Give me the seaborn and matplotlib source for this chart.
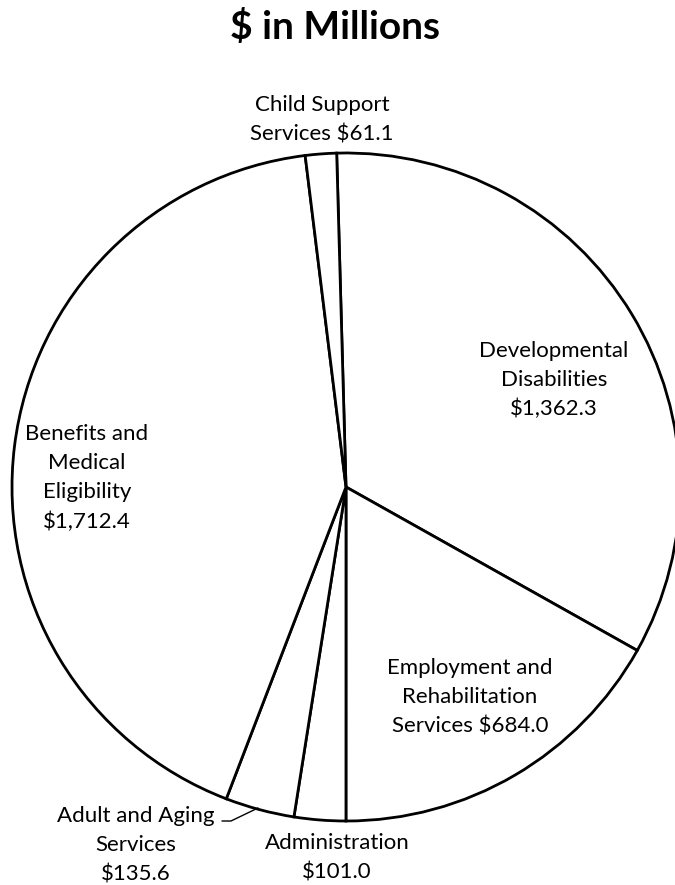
import matplotlib
matplotlib.use("Agg")
import matplotlib.pyplot as plt
import seaborn as sns

# ---- data ----
categories = [
    "Developmental\nDisabilities\n$1,362.3",
    "Employment and\nRehabilitation\nServices $684.0",
    "Administration\n$101.0",
    "Adult and Aging\nServices\n$135.6",
    "Benefits and\nMedical\nEligibility\n$1,712.4",
    "Child Support\nServices $61.1",
]
values = [1362.3, 684.0, 101.0, 135.6, 1712.4, 61.1]
title = "$ in Millions"

sns.set_theme(style="white")
plt.rcParams["font.family"] = ["Lato", "DejaVu Sans"]

W, H = 675, 885
fig = plt.figure(figsize=(W / 100, H / 100), dpi=100)
fig.patch.set_facecolor("white")
ax = fig.add_axes([0, 0, 1, 1])

cx, cy, r = 346, 487, 334

wedges, _ = ax.pie(
    values,
    startangle=91.6,
    counterclock=False,
    radius=1.0,
    colors=["white"] * len(values),
    wedgeprops=dict(edgecolor="black", linewidth=2.0),
    frame=True,
)
ax.set_xlim(-cx / r, (W - cx) / r)
ax.set_ylim(-(H - cy) / r, cy / r)
ax.set_aspect("auto")
ax.axis("off")


def fx(px):
    return px / W


def fy(py):
    return 1 - py / H


# label block centres in pixels
label_pos = [(554, 380), (470, 697), (337, 858), (136, 845), (87, 478), (322, 120)]
for text, (px, py) in zip(categories, label_pos):
    fig.text(fx(px), fy(py), text, ha="center", va="center",
             fontsize=16, linespacing=1.57, color="black")

# leader line for Adult and Aging
ax.plot([(222 - cx) / r, (231 - cx) / r, (258 - cx) / r],
        [(cy - 821) / r, (cy - 821) / r, (cy - 808) / r],
        color="black", lw=1.0, clip_on=False)

fig.text(fx(335), fy(27), title, ha="center", va="center",
         fontsize=28, fontweight="bold", color="black")

fig.savefig("out.png", dpi=100, facecolor="white")
